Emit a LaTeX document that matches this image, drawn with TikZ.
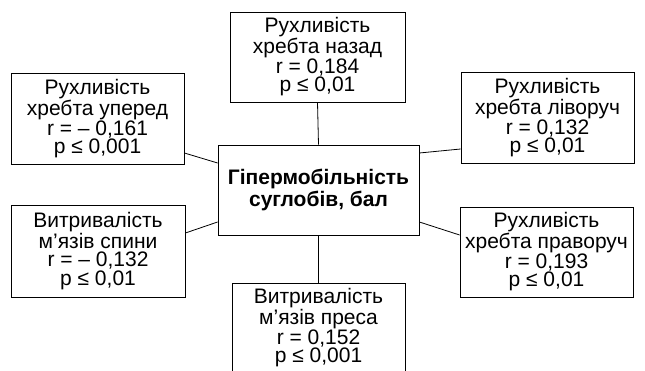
\documentclass[tikz,border=0pt]{standalone}
\usepackage{fontspec}
\setmainfont{Liberation Sans}
\begin{document}
\begin{tikzpicture}[x=1pt,y=1pt,
  factor/.style={draw, thick, align=center, inner sep=0pt,
    font=\fontsize{21}{18.3}\selectfont},
  hubbox/.style={draw, thick, align=center, inner sep=0pt,
    font=\fontsize{21}{21.5}\selectfont\bfseries},
  link/.style={thick}]
\useasboundingbox (0,0) rectangle (645,370);
\node[hubbox, minimum width=201, minimum height=90] (hub) at (318.5,180) {Гіпермобільність\\суглобів, бал};
\node[factor, minimum width=175, minimum height=90] (back) at (317.5,313) {Рухливість\\хребта назад\\r = 0,184\\p ≤ 0,01};
\node[factor, minimum width=173, minimum height=91] (fwd) at (97.5,251.5) {Рухливість\\хребта уперед\\r = – 0,161\\p ≤ 0,001};
\node[factor, minimum width=173, minimum height=91] (lft) at (547.5,252.5) {Рухливість\\хребта ліворуч\\r = 0,132\\p ≤ 0,01};
\node[factor, minimum width=174, minimum height=92] (spine) at (98,119) {Витривалість\\м’язів спини\\r = – 0,132\\p ≤ 0,01};
\node[factor, minimum width=173, minimum height=90] (rgt) at (546.5,118) {Рухливість\\хребта праворуч\\r = 0,193\\p ≤ 0,01};
\node[factor, minimum width=173, minimum height=90] (press) at (318.5,42) {Витривалість\\м’язів преса\\r = 0,152\\p ≤ 0,001};
\draw[link] (back.south) -- (hub.north);
\draw[link] (hub.south) -- (press.north);
\draw[link] ([yshift=-34.5]fwd.east) -- ([yshift=27]hub.west);
\draw[link] ([yshift=37]hub.east) -- ([yshift=-31.5]lft.west);
\draw[link] ([yshift=18]spine.east) -- ([yshift=-32]hub.west);
\draw[link] ([yshift=-32]hub.east) -- ([yshift=17]rgt.west);
\end{tikzpicture}
\end{document}
